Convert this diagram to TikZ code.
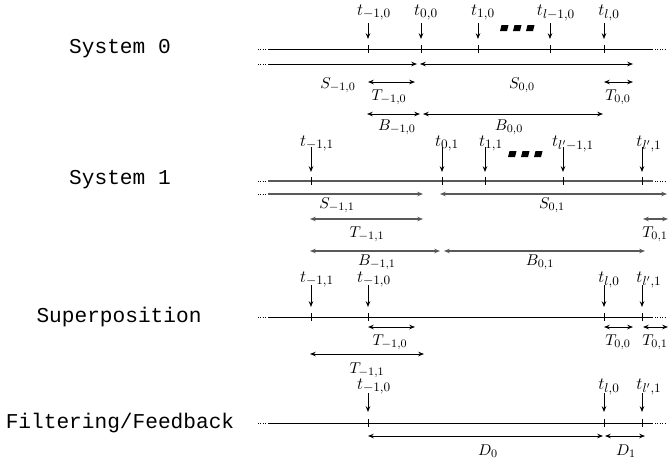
\documentclass[tikz,border=0pt]{standalone}
\usepackage{fontspec}
\setmonofont{Liberation Mono}
\usetikzlibrary{arrows.meta}
\begin{document}
\begin{tikzpicture}[x=0.7pt,y=-0.7pt,
  axis/.style={line width=0.6pt},
  axisg/.style={line width=0.8pt,black!65},
  endots/.style={line width=0.6pt,dash pattern=on 0.6pt off 1.1pt},
  tickmark/.style={line width=0.6pt},
  downarr/.style={line width=0.6pt,-{Stealth[length=4pt,width=3.1pt]}},
  spanr/.style={line width=0.6pt,-{Stealth[length=4pt,width=3.1pt]}},
  spanb/.style={line width=0.6pt,{Stealth[length=4pt,width=3.1pt]}-{Stealth[length=4pt,width=3.1pt]}},
  spang/.style={spanb,black!65,line width=0.8pt},
  lab/.style={font=\fontsize{11}{13}\selectfont,inner sep=0pt,anchor=base},
  tlab/.style={font=\fontsize{12.2}{14}\selectfont,inner sep=0pt,anchor=base},
  rowlab/.style={font=\fontsize{14.8}{17}\selectfont\ttfamily,inner sep=0pt,anchor=center},
  sq/.style={fill=black,draw=none}]
\useasboundingbox (0,0) rectangle (669,464);

% ---------- row labels
\node[rowlab] (r0) at (120,49) {System 0};
\node[rowlab] (r1) at (120,180) {System 1};
\node[rowlab] (r2) at (119,317) {Superposition};
\node[rowlab] (r3) at (120,423) {Filtering/Feedback};

% ---------- System 0
\draw[endots] (258,49) -- (266,49);
\draw[axis] (268,49) -- (653,49);
\draw[endots] (655,49) -- (665,49);
\foreach \x/\n/\t/\o in {368/a/{-1,0}/6,421/b/{0,0}/5,478/c/{1,0}/5,550/d/{l-1,0}/6,604/e/{l,0}/5}{
  \coordinate (s0\n) at (\x,49);
  \draw[tickmark] (\x,45) -- (\x,53);
  \coordinate (s0\n top) at (\x,23);
  \draw[downarr] (s0\n top) -- (\x,39);
  \node[tlab] (s0\n lab) at (\x+\o,15) {$t_{\t}$};
}
\foreach \x in {500,513,526}{
  \fill[sq] (\x+1.5,25) -- (\x+8.5,25) -- (\x+7,31) -- (\x,31) -- cycle;
}
% S row
\draw[endots] (258,64) -- (266,64);
\coordinate (S0a) at (268,64); \coordinate (S0b) at (417,64);
\draw[spanr] (S0a) -- (S0b);
\coordinate (S0c) at (420,64); \coordinate (S0d) at (633,64);
\draw[spanb] (S0c) -- (S0d);
\node[lab] (lS0a) at (338,88) {$S_{-1,0}$};
\node[lab] (lS0b) at (522,88) {$S_{0,0}$};
% T row
\coordinate (T0a) at (368,82); \coordinate (T0b) at (415,82);
\draw[spanb] (T0a) -- (T0b);
\coordinate (T0c) at (604,82); \coordinate (T0d) at (633,82);
\draw[spanb] (T0c) -- (T0d);
\node[lab] (lT0a) at (389,100) {$T_{-1,0}$};
\node[lab] (lT0b) at (618,100) {$T_{0,0}$};
% B row
\coordinate (B0a) at (367,114); \coordinate (B0b) at (420,114);
\draw[spanb] (B0a) -- (B0b);
\coordinate (B0c) at (423,114); \coordinate (B0d) at (603,114);
\draw[spanb] (B0c) -- (B0d);
\node[lab] (lB0a) at (397,130) {$B_{-1,0}$};
\node[lab] (lB0b) at (509,130) {$B_{0,0}$};

% ---------- System 1
\draw[endots] (258,181) -- (266,181);
\draw[axisg] (268,181) -- (653,181);
\draw[endots] (655,181) -- (665,181);
\foreach \x/\n/\t/\o in {311/a/{-1,1}/6,442/b/{0,1}/5,485/c/{1,1}/6,563/d/{l'-1,1}/10,642/e/{l',1}/7}{
  \coordinate (s1\n) at (\x,181);
  \draw[tickmark] (\x,177) -- (\x,185);
  \coordinate (s1\n top) at (\x,147);
  \draw[downarr] (s1\n top) -- (\x,172);
  \node[tlab] (s1\n lab) at (\x+\o,146) {$t_{\t}$};
}
\foreach \x in {508,521,534}{
  \fill[sq] (\x+1.5,151) -- (\x+8.5,151) -- (\x+7,157) -- (\x,157) -- cycle;
}
% S row
\draw[endots] (258,194) -- (266,194);
\coordinate (S1a) at (268,194); \coordinate (S1b) at (423,194);
\draw[spanr,black!65,line width=0.8pt] (S1a) -- (S1b);
\coordinate (S1c) at (440,194); \coordinate (S1d) at (667,194);
\draw[spang] (S1c) -- (S1d);
\node[lab] (lS1a) at (337,208) {$S_{-1,1}$};
\node[lab] (lS1b) at (552,208) {$S_{0,1}$};
% T row
\coordinate (T1a) at (310,219); \coordinate (T1b) at (423,219);
\draw[spang] (T1a) -- (T1b);
\coordinate (T1c) at (643,219); \coordinate (T1d) at (668,219);
\draw[spang] (T1c) -- (T1d);
\node[lab] (lT1a) at (367,237) {$T_{-1,1}$};
\node[lab] (lT1b) at (655,237) {$T_{0,1}$};
% B row
\coordinate (B1a) at (310,251); \coordinate (B1b) at (440,251);
\draw[spang] (B1a) -- (B1b);
\coordinate (B1c) at (444,251); \coordinate (B1d) at (645,251);
\draw[spang] (B1c) -- (B1d);
\node[lab] (lB1a) at (377,265) {$B_{-1,1}$};
\node[lab] (lB1b) at (540,265) {$B_{0,1}$};

% ---------- Superposition
\draw[endots] (258,317) -- (266,317);
\draw[axis] (268,317) -- (653,317);
\draw[endots] (655,317) -- (665,317);
\foreach \x/\n/\t/\o in {311/a/{-1,1}/6,368/b/{-1,0}/6,604/c/{l,0}/5,642/d/{l',1}/7}{
  \coordinate (s2\n) at (\x,317);
  \draw[tickmark] (\x,313) -- (\x,321);
  \coordinate (s2\n top) at (\x,285);
  \draw[downarr] (s2\n top) -- (\x,307);
  \node[tlab] (s2\n lab) at (\x+\o,282) {$t_{\t}$};
}
\coordinate (T2a) at (368,327); \coordinate (T2b) at (415,327);
\draw[spanb] (T2a) -- (T2b);
\coordinate (T2c) at (604,327); \coordinate (T2d) at (633,327);
\draw[spanb] (T2c) -- (T2d);
\coordinate (T2e) at (643,327); \coordinate (T2f) at (668,327);
\draw[spanb] (T2e) -- (T2f);
\node[lab] (lT2a) at (390,345) {$T_{-1,0}$};
\node[lab] (lT2b) at (618,345) {$T_{0,0}$};
\node[lab] (lT2c) at (655,345) {$T_{0,1}$};
\coordinate (T2g) at (310,354); \coordinate (T2h) at (424,354);
\draw[spanb] (T2g) -- (T2h);
\node[lab] (lT2d) at (367,373) {$T_{-1,1}$};

% ---------- Filtering/Feedback
\draw[endots] (258,423) -- (266,423);
\draw[axis] (268,423) -- (653,423);
\draw[endots] (655,423) -- (665,423);
\foreach \x/\n/\t/\o in {368/a/{-1,0}/6,604/b/{l,0}/5,642/c/{l',1}/7}{
  \coordinate (s3\n) at (\x,423);
  \draw[tickmark] (\x,419) -- (\x,427);
  \coordinate (s3\n top) at (\x,393);
  \draw[downarr] (s3\n top) -- (\x,412);
  \node[tlab] (s3\n lab) at (\x+\o,389) {$t_{\t}$};
}
\coordinate (D0a) at (368,436); \coordinate (D0b) at (603,436);
\draw[spanb] (D0a) -- (D0b);
\coordinate (D1a) at (605,436); \coordinate (D1b) at (645,436);
\draw[spanb] (D1a) -- (D1b);
\node[lab] (lD0) at (488,455) {$D_0$};
\node[lab] (lD1) at (626,455) {$D_1$};
\end{tikzpicture}
\end{document}
